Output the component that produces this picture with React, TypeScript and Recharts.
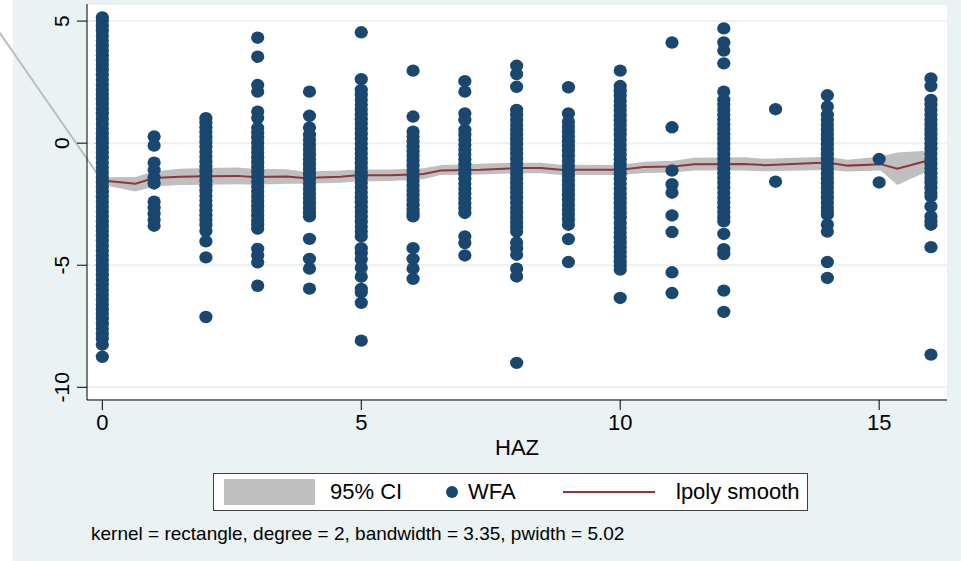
import {
  ComposedChart,
  Scatter,
  Line,
  Area,
  XAxis,
  YAxis,
  CartesianGrid,
  ReferenceLine,
} from "recharts";

// WFA values (x = 0..16)
const col0 = [5.15, 5.0, 4.8, 4.6, 4.4, 4.2, 4.0, 3.8, 3.6, 3.4, 3.2, 3.0, 2.8, 2.6, 2.4, 2.2, 2.0, 1.8, 1.6, 1.4, 1.2, 1.0, 0.8, 0.6, 0.4, 0.2, 0.0, -0.2, -0.4, -0.6, -0.8, -1.0, -1.2, -1.4, -1.6, -1.8, -2.0, -2.2, -2.4, -2.6, -2.8, -3.0, -3.2, -3.4, -3.6, -3.8, -4.0, -4.2, -4.4, -4.6, -4.8, -5.0, -5.2, -5.4, -5.6, -5.8, -6.0, -6.2, -6.4, -6.6, -6.8, -7.0, -7.2, -7.4, -7.6, -7.8, -8.0, -8.25, -8.75];
const col1 = [0.27, -0.1, -0.8, -1.1, -1.4, -1.65, -2.4, -2.65, -2.9, -3.15, -3.38];
const col2 = [1.02, 0.85, 0.65, 0.45, 0.25, 0.05, -0.15, -0.35, -0.55, -0.75, -0.95, -1.15, -1.35, -1.55, -1.75, -1.95, -2.15, -2.35, -2.55, -2.75, -2.95, -3.15, -3.35, -3.6, -4.02, -4.68, -7.12];
const col3 = [4.32, 3.54, 2.38, 2.11, 1.29, 1.03, 0.62, 0.42, 0.22, 0.02, -0.18, -0.38, -0.58, -0.78, -0.98, -1.18, -1.38, -1.58, -1.78, -1.98, -2.18, -2.38, -2.58, -2.78, -2.98, -3.18, -3.35, -3.5, -4.33, -4.6, -4.88, -5.84];
const col4 = [2.11, 1.12, 0.64, 0.34, 0.14, -0.06, -0.26, -0.46, -0.66, -0.86, -1.06, -1.26, -1.46, -1.66, -1.86, -2.06, -2.26, -2.46, -2.66, -2.86, -3.0, -3.92, -4.74, -5.14, -5.96];
const col5 = [4.54, 2.62, 2.18, 1.98, 1.78, 1.58, 1.38, 1.18, 0.98, 0.78, 0.58, 0.38, 0.18, -0.02, -0.22, -0.42, -0.62, -0.82, -1.02, -1.22, -1.42, -1.62, -1.82, -2.02, -2.22, -2.42, -2.62, -2.82, -3.02, -3.22, -3.42, -3.62, -3.82, -4.3, -4.5, -4.75, -5.1, -5.47, -5.97, -6.11, -6.54, -8.09];
const col6 = [2.97, 1.09, 0.47, 0.27, 0.07, -0.13, -0.33, -0.53, -0.73, -0.93, -1.13, -1.33, -1.53, -1.73, -1.93, -2.13, -2.33, -2.53, -2.73, -2.9, -3.0, -4.3, -4.74, -5.14, -5.56];
const col7 = [2.54, 2.11, 1.22, 0.95, 0.54, 0.34, 0.14, -0.06, -0.26, -0.46, -0.66, -0.86, -1.06, -1.26, -1.46, -1.66, -1.86, -2.06, -2.26, -2.46, -2.66, -2.86, -3.82, -4.09, -4.6];
const col8 = [3.17, 2.83, 2.31, 1.36, 1.16, 0.96, 0.76, 0.56, 0.36, 0.16, -0.04, -0.24, -0.44, -0.64, -0.84, -1.04, -1.24, -1.44, -1.64, -1.84, -2.04, -2.24, -2.44, -2.64, -2.84, -3.04, -3.24, -3.44, -3.62, -4.07, -4.3, -4.57, -5.14, -5.46, -9.0];
const col9 = [2.29, 1.22, 0.88, 0.68, 0.48, 0.28, 0.08, -0.12, -0.32, -0.52, -0.72, -0.92, -1.12, -1.32, -1.52, -1.72, -1.92, -2.12, -2.32, -2.52, -2.72, -2.92, -3.12, -3.34, -3.93, -4.87];
const col10 = [2.97, 2.34, 2.14, 1.94, 1.74, 1.54, 1.34, 1.14, 0.94, 0.74, 0.54, 0.34, 0.14, -0.06, -0.26, -0.46, -0.66, -0.86, -1.06, -1.26, -1.46, -1.66, -1.86, -2.06, -2.26, -2.46, -2.66, -2.86, -3.06, -3.26, -3.46, -3.66, -3.86, -4.06, -4.26, -4.46, -4.66, -4.86, -5.02, -5.18, -6.34];
const col11 = [4.12, 0.65, -1.12, -1.68, -2.03, -2.96, -3.64, -5.29, -6.14];
const col12 = [4.7, 4.13, 3.79, 3.27, 2.11, 1.77, 1.57, 1.37, 1.17, 0.97, 0.77, 0.57, 0.37, 0.17, -0.03, -0.23, -0.43, -0.63, -0.83, -1.03, -1.23, -1.43, -1.63, -1.83, -2.03, -2.23, -2.43, -2.63, -2.83, -3.03, -3.2, -3.72, -4.34, -4.54, -6.04, -6.91];
const col13 = [1.39, -1.58];
const col14 = [1.96, 1.5, 1.16, 0.96, 0.76, 0.56, 0.36, 0.16, -0.04, -0.24, -0.44, -0.64, -0.84, -1.04, -1.24, -1.44, -1.64, -1.84, -2.04, -2.24, -2.44, -2.64, -2.8, -2.93, -3.34, -3.62, -4.87, -5.52];
const col15 = [-0.65, -1.61];
const col16 = [2.65, 2.34, 1.77, 1.57, 1.37, 1.17, 0.97, 0.77, 0.57, 0.37, 0.17, -0.03, -0.23, -0.43, -0.63, -0.83, -1.03, -1.23, -1.43, -1.63, -1.83, -2.03, -2.18, -2.59, -3.0, -3.2, -3.34, -4.26, -8.66];

const columns = [col0, col1, col2, col3, col4, col5, col6, col7, col8, col9, col10, col11, col12, col13, col14, col15, col16];

// lpoly smooth and its 95% CI
const smoothX = [0, 0.64, 1.0, 1.5, 2.0, 2.6, 2.92, 3.56, 3.88, 4.6, 4.92, 5.56, 6.2, 6.53, 7.3, 8.0, 8.47, 8.85, 10.0, 10.46, 11.03, 11.43, 12.39, 12.78, 14.0, 14.39, 15.03, 15.35, 16.0];
const smoothFit = [-1.53, -1.66, -1.43, -1.38, -1.36, -1.34, -1.39, -1.37, -1.43, -1.38, -1.31, -1.31, -1.26, -1.12, -1.09, -1.02, -1.02, -1.09, -1.09, -0.98, -0.96, -0.86, -0.85, -0.9, -0.79, -0.92, -0.86, -1.05, -0.68];
const ciLow = [-1.7, -1.98, -1.77, -1.71, -1.7, -1.68, -1.7, -1.66, -1.66, -1.62, -1.57, -1.55, -1.48, -1.3, -1.28, -1.23, -1.23, -1.3, -1.3, -1.22, -1.2, -1.12, -1.12, -1.15, -1.1, -1.16, -1.12, -1.71, -1.09];
const ciHigh = [-1.4, -1.39, -1.16, -1.05, -1.02, -1.0, -1.05, -1.07, -1.16, -1.12, -1.08, -1.08, -1.03, -0.9, -0.84, -0.8, -0.8, -0.88, -0.89, -0.76, -0.72, -0.6, -0.58, -0.64, -0.56, -0.68, -0.55, -0.38, -0.3];

const xTicks = [0, 5, 10, 15];
const yTicks = [-10, -5, 0, 5];

const scatterData = columns.flatMap((ys, x) => ys.map((y) => ({ x, y })));
const smoothData = smoothX.map((x, i) => ({ x, fit: smoothFit[i], ci: [ciLow[i], ciHigh[i]] }));

const FONT = "'Liberation Sans', Arial, sans-serif";
const NAVY = "#1a476f";
const MAROON = "#90353b";
const CI_GREY = "#bfbfbf";
const BG = "#eaf2f3";

const Dot = (props: any) => {
  const { cx, cy } = props;
  if (cx == null || cy == null) return null;
  return <ellipse cx={cx} cy={cy} rx={6.6} ry={6.2} fill={NAVY} />;
};

const YTick = ({ x, y, payload }: any) => (
  <text
    x={x - 8}
    y={y}
    transform={`rotate(-90 ${x - 8} ${y})`}
    textAnchor="middle"
    fontSize={21}
    fontFamily={FONT}
    fill="#000"
  >
    {payload.value}
  </text>
);

export default function App() {
  return (
    <div style={{ position: "relative", width: 961, height: 561, fontFamily: FONT }}>
      <style>{"body{margin:0}"}</style>
      <div style={{ position: "absolute", left: 13, top: 0, width: 948, height: 561, background: BG }} />
      <div style={{ position: "absolute", left: 0, top: 0 }}>
        <ComposedChart
          width={961}
          height={561}
          data={smoothData}
          margin={{ top: 4, right: 14, left: 0, bottom: 101 }}
          style={{ overflow: "visible" }}
        >
          <CartesianGrid vertical={false} stroke={BG} strokeWidth={2} fill="#fff" fillOpacity={1} />
          <XAxis
            type="number"
            dataKey="x"
            domain={[-0.296, 16.31]}
            allowDataOverflow
            ticks={xTicks}
            height={60}
            tickSize={10}
            tickMargin={4}
            axisLine={{ stroke: "#000" }}
            tickLine={{ stroke: "#000" }}
            tick={{ fill: "#000", fontSize: 22, fontFamily: FONT }}
            label={{ value: "HAZ", position: "insideBottom", offset: 5, fill: "#000", fontSize: 22, fontFamily: FONT }}
          />
          <YAxis
            type="number"
            domain={[-10.52, 5.7]}
            allowDataOverflow
            ticks={yTicks}
            width={87}
            tickSize={10}
            tickMargin={0}
            axisLine={{ stroke: "#000" }}
            tickLine={{ stroke: "#000" }}
            tick={<YTick />}
          />
          <ReferenceLine
            segment={[{ x: -2.4, y: 5.8 }, { x: 0, y: -1.55 }]}
            stroke="#bdbdbd"
            strokeWidth={2}
            ifOverflow="visible"
          />
          <Area
            dataKey="ci"
            type="linear"
            stroke="none"
            fill={CI_GREY}
            fillOpacity={1}
            isAnimationActive={false}
          />
          <Scatter data={scatterData} dataKey="y" shape={<Dot />} isAnimationActive={false} />
          <Line
            dataKey="fit"
            type="linear"
            stroke={MAROON}
            strokeWidth={2}
            dot={false}
            isAnimationActive={false}
          />
        </ComposedChart>
      </div>

      {/* legend */}
      <div
        style={{
          position: "absolute",
          left: 213,
          top: 473,
          width: 593,
          height: 36,
          border: "1px solid #404040",
          background: "#fff",
        }}
      />
      <div style={{ position: "absolute", left: 224, top: 479, width: 91, height: 26, background: CI_GREY }} />
      <span style={{ position: "absolute", left: 330, top: 480, fontSize: 22, lineHeight: "24px" }}>95% CI</span>
      <div style={{ position: "absolute", left: 446, top: 486, width: 12, height: 12, borderRadius: 6, background: NAVY }} />
      <span style={{ position: "absolute", left: 468, top: 480, fontSize: 22, lineHeight: "24px" }}>WFA</span>
      <div style={{ position: "absolute", left: 563, top: 491, width: 92, height: 2, background: MAROON }} />
      <span style={{ position: "absolute", left: 676, top: 480, fontSize: 22, lineHeight: "24px" }}>lpoly smooth</span>

      <span style={{ position: "absolute", left: 91, top: 524, fontSize: 19, lineHeight: "20px" }}>
        kernel = rectangle, degree = 2, bandwidth = 3.35, pwidth = 5.02
      </span>
    </div>
  );
}
